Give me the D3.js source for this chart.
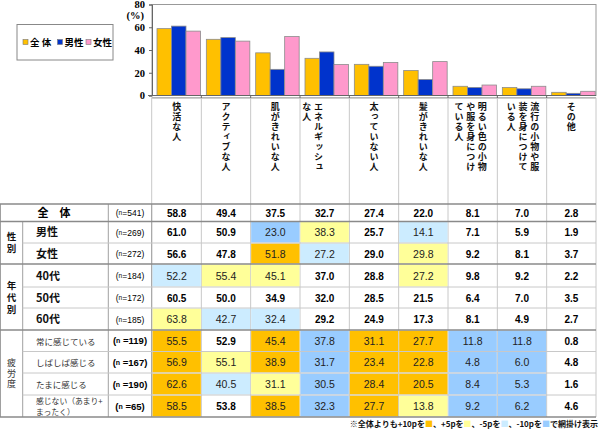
<!DOCTYPE html>
<html><head><meta charset="utf-8">
<script src="https://cdn.jsdelivr.net/npm/d3@7"></script>
<style>body{margin:0;background:#fff} svg{display:block} .vt{writing-mode:vertical-rl;text-orientation:upright}</style>
</head><body><svg id="c" width="600" height="429"></svg>
<script>
// ---------- data ----------
const categories = ["快活な人","アクティブな人","肌がきれいな人","エネルギッシュな人","太っていない人","髪がきれいな人","明るい色の小物や服を身につけている人","流行の小物や服装を身につけている人","その他"];
const categoryLines = [["快活な人"],["アクティブな人"],["肌がきれいな人"],["エネルギッシュ","な人"],["太っていない人"],["髪がきれいな人"],["明るい色の小物","や服を身につけ","ている人"],["流行の小物や服","装を身につけて","いる人"],["その他"]];
const seriesNames = ["全 体","男性","女性"];
const seriesTotal = [58.8,49.4,37.5,32.7,27.4,22.0,8.1,7.0,2.8];
const seriesMale = [61.0,50.9,23.0,38.3,25.7,14.1,7.1,5.9,1.9];
const seriesFemale = [56.6,47.8,51.8,27.2,29.0,29.8,9.2,8.1,3.7];
const yTicks = [0,20,40,60,80];

const groupNames = ["性別","年代別","疲労度"];
const rowLabels = ["全　体","男性","女性","40代","50代","60代","常に感じている","しばしば感じる","たまに感じる","感じない（あまり+|まったく）"];
const rowGroups = [-1,0,0,1,1,1,2,2,2,2];
const rowN = [541,269,272,184,172,185,119,167,190,65];
const rowValues = [
 [58.8,49.4,37.5,32.7,27.4,22.0,8.1,7.0,2.8],
 [61.0,50.9,23.0,38.3,25.7,14.1,7.1,5.9,1.9],
 [56.6,47.8,51.8,27.2,29.0,29.8,9.2,8.1,3.7],
 [52.2,55.4,45.1,37.0,28.8,27.2,9.8,9.2,2.2],
 [60.5,50.0,34.9,32.0,28.5,21.5,6.4,7.0,3.5],
 [63.8,42.7,32.4,29.2,24.9,17.3,8.1,4.9,2.7],
 [55.5,52.9,45.4,37.8,31.1,27.7,11.8,11.8,0.8],
 [56.9,55.1,38.9,31.7,23.4,22.8,4.8,6.0,4.8],
 [62.6,40.5,31.1,30.5,28.4,20.5,8.4,5.3,1.6],
 [58.5,53.8,38.5,32.3,27.7,13.8,9.2,6.2,4.6]
];
// 2:+10p 1:+5p -1:-5p -2:-10p 0:none
const rowShading = [
 [0,0,0,0,0,0,0,0,0],
 [0,0,-2,1,0,-1,0,0,0],
 [0,0,2,-1,0,1,0,0,0],
 [-1,1,1,0,0,1,0,0,0],
 [0,0,0,0,0,0,0,0,0],
 [1,-1,-1,0,0,0,0,0,0],
 [2,0,2,-2,2,2,-2,-2,0],
 [2,1,2,-2,2,2,-2,-2,0],
 [2,-1,1,-2,2,2,-2,-2,0],
 [2,0,2,-2,2,1,-2,-2,0]
];
const footnoteParts = ["※全体よりも+10pを","■","、+5pを","■","、-5pを","■","、-10pを","■","で網掛け表示"];

// ---------- style / layout ----------
const seriesColors = ["#FFC000","#0033CC","#FF99CC"];
const shadeColors = {"2":"#FFC000","1":"#FFFF99","-1":"#CCECFF","-2":"#99CCFF"};
const JP = "'Noto Sans CJK JP','Noto Sans',sans-serif";
const NUM = "'Liberation Sans',Arial,sans-serif";
const SERIF = "'Liberation Serif','DejaVu Serif',serif";
const labelShift = [0,0,0,-12,0,0,-2,1,0];
const rowEdges = [204,221.5,243,264,287,308,330,351.5,373,395,417];

const svg = d3.select("#c");
const x = d3.scaleBand().domain(categories).range([152,596]).padding(0);
const x1 = d3.scaleBand().domain(seriesNames).range([5,48.5]).padding(0);
const y = d3.scaleLinear().domain([0,80]).range([95.5,4.5]);
const seriesData = [seriesTotal,seriesMale,seriesFemale];

// plot frame
svg.append("rect").attr("x",152).attr("y",4.5).attr("width",444).attr("height",91)
  .attr("fill","#fff").attr("stroke","#999").attr("stroke-width",1);

// bars
const g = svg.append("g");
categories.forEach((c,i)=>{
  seriesNames.forEach((s,j)=>{
    const v = seriesData[j][i];
    g.append("rect")
      .attr("x",x(c)+x1(s)).attr("y",y(v))
      .attr("width",x1.bandwidth()).attr("height",y(0)-y(v))
      .attr("fill",seriesColors[j]).attr("stroke","#8c8c8c").attr("stroke-width",0.8);
  });
});

// y axis
const yAxis = d3.axisLeft(y).tickValues(yTicks).tickSize(3).tickPadding(4);
const ya = svg.append("g").attr("transform","translate(152,0)").call(yAxis);
ya.select(".domain").attr("stroke","#666");
ya.selectAll(".tick line").attr("stroke","#666");
ya.selectAll("text").attr("font-family",SERIF).attr("font-weight","bold").attr("font-size",10.5).attr("fill","#000");
svg.append("text").attr("x",144).attr("y",19).attr("text-anchor","end")
  .attr("font-family",SERIF).attr("font-weight","bold").attr("font-size",10.5).text("(%)");
svg.append("line").attr("x1",148).attr("x2",596).attr("y1",95.5).attr("y2",95.5).attr("stroke","#666");

// legend
svg.append("rect").attr("x",17).attr("y",24.5).attr("width",96).attr("height",35.5)
  .attr("fill","#fff").attr("stroke","#888");
const legX = [23,57.5,86];
seriesNames.forEach((s,j)=>{
  svg.append("rect").attr("x",legX[j]).attr("y",39.5).attr("width",5).attr("height",5)
    .attr("fill",seriesColors[j]).attr("stroke","#777").attr("stroke-width",0.6);
  svg.append("text").attr("x",legX[j]+7).attr("y",46).attr("font-family",JP).attr("font-weight","bold")
    .attr("font-size",9.5).text(s);
});

// ---------- category label area ----------
const gridLight = "#c8c8c8", gridMid = "#a0a0a0";
svg.append("line").attr("x1",151.7).attr("x2",596).attr("y1",97.8).attr("y2",97.8).attr("stroke",gridMid).attr("stroke-width",1.2);
categories.forEach((c,i)=>{
  const cx = x(c)+x.bandwidth()/2 + labelShift[i];
  const lines = categoryLines[i];
  const n = lines.length;
  lines.forEach((ln,j)=>{
    const lx = cx + ((n-1)/2 - j)*11.7;
    svg.append("text").attr("class","vt").attr("x",lx).attr("y",102)
      .attr("font-family",JP).attr("font-weight","bold").attr("font-size",9)
      .attr("letter-spacing",1).attr("fill","#111").text(ln);
  });
});
[151.7, ...categories.map(c=>x(c)+x.bandwidth())].forEach(vx=>{
  svg.append("line").attr("x1",vx).attr("x2",vx).attr("y1",97.8).attr("y2",rowEdges[rowEdges.length-1])
    .attr("stroke",gridLight).attr("stroke-width",1);
});
categories.slice(1).forEach(c=>{
  svg.append("line").attr("x1",x(c)).attr("x2",x(c)).attr("y1",95.5).attr("y2",98).attr("stroke","#666");
});

// ---------- table ----------
rowValues.forEach((vals,r)=>{
  vals.forEach((v,ci)=>{
    const s = rowShading[r][ci];
    if(s!==0){
      svg.append("rect").attr("x",x(categories[ci])+0.5).attr("y",rowEdges[r]+0.5)
        .attr("width",x.bandwidth()-1).attr("height",rowEdges[r+1]-rowEdges[r]-1)
        .attr("fill",shadeColors[String(s)]);
    }
  });
});
[[0.5,204],[22.7,221.5],[108.3,204],[151.7,204]].forEach(([vx,y0])=>{
  svg.append("line").attr("x1",vx).attr("x2",vx).attr("y1",y0).attr("y2",417)
    .attr("stroke",gridMid).attr("stroke-width",1);
});
const sectionIdx = [0,1,3,6,10];
rowEdges.forEach((ry,k)=>{
  const sec = sectionIdx.includes(k);
  svg.append("line").attr("x1",sec?0:22.7).attr("x2",596).attr("y1",ry).attr("y2",ry)
    .attr("stroke",sec?"#8a8a8a":gridLight).attr("stroke-width",sec?1.6:1);
});
// group labels (vertical)
const groupSpans = [[1,3],[3,6],[6,10]];
groupNames.forEach((gname,gi)=>{
  const [a,b] = groupSpans[gi];
  const cy = (rowEdges[a]+rowEdges[b])/2;
  const fs = gi===2?9:9.5;
  const ls = gi===2?1.5:2.5;
  const n = Array.from(gname).length;
  const total = n*fs + (n-1)*ls;
  svg.append("text").attr("class","vt").attr("x",11.5).attr("y",cy-total/2)
    .attr("font-family",JP).attr("font-weight",gi===2?"normal":"bold")
    .attr("font-size",fs).attr("letter-spacing",ls)
    .attr("fill",gi===2?"#333":"#111").text(gname);
});
// row labels, n, values
rowLabels.forEach((lab,r)=>{
  const cy = (rowEdges[r]+rowEdges[r+1])/2;
  const fat = rowGroups[r]===2;
  if(r===0){
    svg.append("text").attr("x",54).attr("y",cy+4).attr("text-anchor","middle")
      .attr("font-family",JP).attr("font-weight","bold").attr("font-size",11).text(lab);
  } else if(lab.includes("|")){
    lab.split("|").forEach((p,k)=>{
      svg.append("text").attr("x",36).attr("y",cy-2+k*10.5).attr("font-family",JP)
        .attr("font-size",7.8).attr("fill","#333").text(p);
    });
  } else {
    svg.append("text").attr("x",36).attr("y",cy+4).attr("font-family",JP)
      .attr("font-weight",fat?"normal":"bold").attr("font-size",fat?8.5:11)
      .attr("fill",fat?"#333":"#111").text(lab);
  }
  const nt = svg.append("text").attr("x",130).attr("y",cy+3.5).attr("text-anchor","middle")
    .attr("font-family",NUM).attr("font-weight",fat?"bold":"normal").attr("font-size",fat?9.5:8.5);
  nt.append("tspan").text("(");
  nt.append("tspan").attr("font-size",fat?7:6.5).attr("dy",-1).text("n");
  nt.append("tspan").attr("dy",1).text(fat?" =":"=");
  nt.append("tspan").text(rowN[r]+")");
  rowValues[r].forEach((v,ci)=>{
    const sh = rowShading[r][ci]!==0;
    svg.append("text").attr("x",x(categories[ci])+x.bandwidth()/2).attr("y",cy+4)
      .attr("text-anchor","middle").attr("font-family",NUM)
      .attr("font-weight",sh?"normal":"bold").attr("font-size",sh?10.5:10)
      .attr("fill",sh?"#222":"#000").text(v.toFixed(1));
  });
});

// footnote
const fn = svg.append("text").attr("x",598).attr("y",426.5).attr("text-anchor","end")
  .attr("font-family",JP).attr("font-weight","bold").attr("font-size",8).attr("fill","#111");
let sq = 0;
const sqColors = ["#FFC000","#FFFF99","#CCECFF","#99CCFF"];
footnoteParts.forEach(p=>{
  const ts = fn.append("tspan").text(p);
  if(p==="■"){ ts.attr("fill",sqColors[sq++]); }
});
</script></body></html>
